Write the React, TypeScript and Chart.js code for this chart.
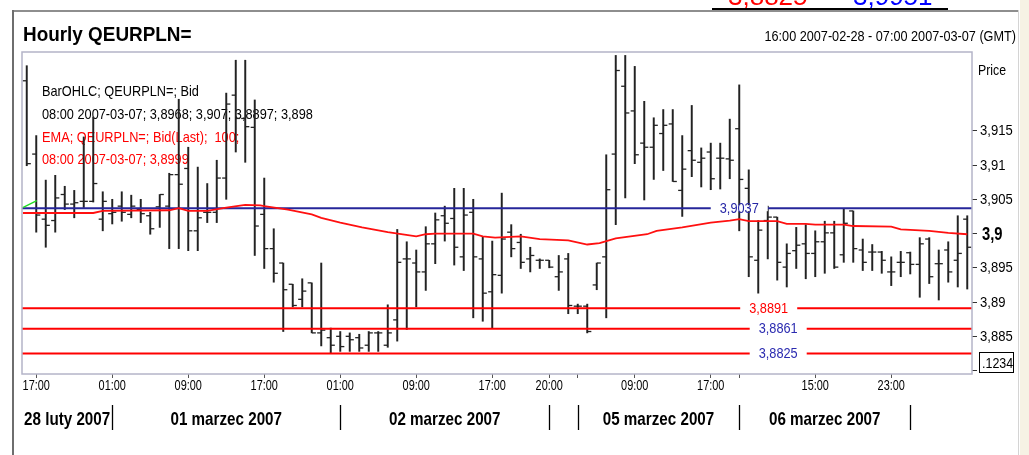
import React, { useEffect, useRef } from 'react';
import { Chart, registerables } from 'chart.js';

Chart.register(...registerables);

// ---------------- data ----------------
const barOpen = [
  3.9223, 3.9116, 3.9021, 3.9019, 3.9057, 3.9043, 3.9047, 3.9047, 3.9021, 3.9029,
  3.9040, 3.9028, 3.9035, 3.9026, 3.9039, 3.9040, 3.9086, 3.9095, 3.9004, 3.9031,
  3.9031, 3.9081, 3.9202, 3.9168, 3.9155, 3.9028, 3.8978, 3.8957, 3.8926, 3.8904,
  3.8928, 3.8855, 3.8848, 3.8850, 3.8850, 3.8848, 3.8837, 3.8855, 3.8837, 3.8874,
  3.8963, 3.8957, 3.8944, 3.8985, 3.9026, 3.9022, 3.8966, 3.9031, 3.8963, 3.8915,
  3.8939, 3.9002, 3.8987, 3.8963, 3.8961, 3.8961, 3.8937, 3.8963, 3.8894, 3.8894,
  3.8925, 3.8966, 3.9116, 3.9215, 3.9179, 3.9132, 3.9126, 3.9146, 3.9160, 3.9063,
  3.9121, 3.9104, 3.9119, 3.9110, 3.9109, 3.9153, 3.9066, 3.8961, 3.9019, 3.9024,
  3.8951, 3.8975, 3.8985, 3.8971, 3.8988, 3.9001, 3.8969, 3.9033, 3.8976, 3.8973,
  3.8973, 3.8944, 3.8958, 3.8972, 3.8955, 3.8992, 3.8956, 3.8976, 3.8961, 3.9021,
];
const barHigh = [
  3.9245, 3.9143, 3.9078, 3.9085, 3.9069, 3.9063, 3.9141, 3.9170, 3.9061, 3.9050,
  3.9061, 3.9056, 3.9050, 3.9031, 3.9057, 3.9088, 3.9196, 3.9126, 3.9097, 3.9073,
  3.9107, 3.9205, 3.9253, 3.9253, 3.9195, 3.9081, 3.9007, 3.8957, 3.8926, 3.8934,
  3.8928, 3.8957, 3.8862, 3.8857, 3.8855, 3.8853, 3.8857, 3.8857, 3.8896, 3.9006,
  3.8988, 3.8976, 3.9010, 3.9030, 3.9040, 3.9066, 3.9066, 3.9050, 3.8996, 3.8989,
  3.9059, 3.9013, 3.8999, 3.8980, 3.8963, 3.8961, 3.8968, 3.8971, 3.8897, 3.8897,
  3.8957, 3.9115, 3.9260, 3.9260, 3.9244, 3.9193, 3.9169, 3.9181, 3.9181, 3.9143,
  3.9187, 3.9125, 3.9132, 3.9132, 3.9167, 3.9217, 3.9093, 3.9019, 3.9040, 3.9024,
  3.8985, 3.9009, 3.9013, 3.9004, 3.9018, 3.9018, 3.9036, 3.9033, 3.8992, 3.8984,
  3.8974, 3.8966, 3.8974, 3.8973, 3.8994, 3.8994, 3.8976, 3.8988, 3.9026, 3.9026,
];
const barLow = [
  3.9099, 3.9002, 3.8980, 3.9002, 3.9035, 3.9023, 3.9038, 3.9046, 3.9004, 3.9014,
  3.9018, 3.9023, 3.9016, 3.8999, 3.9009, 3.8978, 3.8978, 3.8975, 3.8975, 3.9016,
  3.9016, 3.9050, 3.9119, 3.9104, 3.8968, 3.8949, 3.8929, 3.8857, 3.8893, 3.8893,
  3.8855, 3.8836, 3.8826, 3.8828, 3.8828, 3.8828, 3.8828, 3.8828, 3.8834, 3.8843,
  3.8860, 3.8893, 3.8917, 3.8956, 3.8989, 3.8954, 3.8946, 3.8877, 3.8872, 3.8862,
  3.8913, 3.8966, 3.8949, 3.8944, 3.8949, 3.8950, 3.8917, 3.8883, 3.8883, 3.8855,
  3.8918, 3.8877, 3.9013, 3.9052, 3.9102, 3.9049, 3.9079, 3.9092, 3.9076, 3.9025,
  3.9083, 3.9068, 3.9064, 3.9065, 3.9080, 3.9004, 3.8937, 3.8913, 3.8963, 3.8932,
  3.8922, 3.8949, 3.8934, 3.8937, 3.8942, 3.8949, 3.8958, 3.8958, 3.8946, 3.8946,
  3.8942, 3.8924, 3.8937, 3.8941, 3.8907, 3.8927, 3.8903, 3.8929, 3.8922, 3.8919,
];
const barClose = [
  3.9102, 3.9027, 3.9012, 3.9052, 3.9043, 3.9045, 3.9047, 3.9073, 3.9047, 3.9031,
  3.9031, 3.9040, 3.9029, 3.9007, 3.9057, 3.9086, 3.9072, 3.9004, 3.9023, 3.9031,
  3.9081, 3.9189, 3.9168, 3.9156, 3.9011, 3.8978, 3.8942, 3.8918, 3.8895, 3.8916,
  3.8855, 3.8859, 3.8837, 3.8835, 3.8845, 3.8833, 3.8855, 3.8855, 3.8855, 3.8958,
  3.8963, 3.8944, 3.8985, 3.9020, 3.9015, 3.8980, 3.9027, 3.8966, 3.8913, 3.8940,
  3.8992, 3.8978, 3.8958, 3.8968, 3.8961, 3.8951, 3.8944, 3.8895, 3.8894, 3.8857,
  3.8957, 3.9064, 3.9238, 3.9176, 3.9115, 3.9126, 3.9158, 3.9158, 3.9076, 3.9094,
  3.9107, 3.9110, 3.9080, 3.9110, 3.9107, 3.9079, 3.8966, 3.9005, 3.9024, 3.8958,
  3.8971, 3.8983, 3.8971, 3.8988, 3.9001, 3.8951, 3.9015, 3.8978, 3.8958, 3.8973,
  3.8961, 3.8944, 3.8958, 3.8955, 3.8985, 3.8937, 3.8956, 3.8944, 3.8971, 3.8980,
];

// EMA(100) read at bar positions
const emaIdx = [
  -0.4, 7, 8, 15, 16, 17, 19, 21, 23, 24.6, 25, 27.5, 30, 31, 33, 35.3, 38, 41, 42, 43,
  47, 48, 49.3, 52, 54, 57, 59, 60.3, 62, 65.3, 66.3, 69, 72, 74, 75, 76, 79, 80, 82,
  83, 86, 87, 91, 92, 95, 97, 99,
];
const emaVal = [
  3.9030, 3.9030, 3.9033, 3.9034, 3.9037, 3.9033, 3.9033, 3.9038, 3.9042, 3.9041,
  3.9040, 3.9035, 3.9028, 3.9023, 3.9016, 3.9009, 3.9002, 3.8996, 3.8999, 3.9000,
  3.9000, 3.8996, 3.8994, 3.8996, 3.8992, 3.8990, 3.8984, 3.8986, 3.8993, 3.8999,
  3.9004, 3.9009, 3.9016, 3.9019, 3.9021, 3.9018, 3.9018, 3.9014, 3.9014, 3.9013,
  3.9013, 3.9011, 3.9010, 3.9006, 3.9004, 3.9001, 3.8999,
];
const greenIdx = [-0.42, 1.05];
const greenVal = [3.9038, 3.9048];

const levelValues = [3.9037, 3.8891, 3.8861, 3.8825];

const yTickValues = [3.88, 3.885, 3.89, 3.895, 3.9, 3.905, 3.91, 3.915];
const xTickIdx = [1, 9, 17, 25, 33, 41, 49, 55, 58, 64, 72, 75, 83, 91];
const xTickLabels = ['17:00', '01:00', '09:00', '17:00', '01:00', '09:00', '17:00', '20:00', '', '09:00', '17:00', '', '15:00', '23:00'];
const daySepIdx = [9, 33, 55, 58, 75, 93];
const dayLabels = ['28 luty 2007', '01 marzec 2007', '02 marzec 2007', '', '05 marzec 2007', '06 marzec 2007', ''];

const legendLines = [
  'BarOHLC; QEURPLN=; Bid',
  '08:00 2007-03-07; 3,8968; 3,907; 3,8897; 3,898',
  'EMA; QEURPLN=; Bid(Last);  100;',
  '08:00 2007-03-07; 3,8999',
];
const titleText = 'Hourly QEURPLN=';
const rangeText = '16:00 2007-02-28 - 07:00 2007-03-07 (GMT)';
const topCutTexts = ['3,8825', '3,9951'];
const priceLabel = 'Price';
const boxLabel = '.1234';

// ---------------- styles ----------------
const W = 1029;
const H = 455;
const FAMILY = '"Liberation Sans", Arial, sans-serif';
const BAR_COLOR = '#222222';
const TICK_OFF = 0.23;
const levelStyles = [
  { line: '#26269a', text: '#2626a6', at: 75.0 },
  { line: '#ff0000', text: '#ff0000', at: 78.1 },
  { line: '#ff0000', text: '#2b2bb0', at: 79.1 },
  { line: '#ff0000', text: '#2b2bb0', at: 79.1 },
];

const fmt = (v: number, d: number) => {
  let s = v.toFixed(d);
  if (s.indexOf('.') >= 0) s = s.replace(/0+$/, '').replace(/\.$/, '');
  return s.replace('.', ',');
};

type TOpt = { size: number; bold?: boolean; sx?: number; align?: CanvasTextAlign; base?: CanvasTextBaseline; color?: string };
function drawText(ctx: CanvasRenderingContext2D, s: string, x: number, y: number, o: TOpt) {
  ctx.save();
  ctx.font = `${o.bold ? 'bold ' : ''}${o.size}px ${FAMILY}`;
  ctx.textAlign = o.align || 'left';
  ctx.textBaseline = o.base || 'alphabetic';
  ctx.fillStyle = o.color || '#000';
  ctx.translate(x, y);
  ctx.scale(o.sx ?? 0.82, 1);
  ctx.fillText(s, 0, 0);
  ctx.restore();
}
function textWidth(ctx: CanvasRenderingContext2D, s: string, o: TOpt) {
  ctx.save();
  ctx.font = `${o.bold ? 'bold ' : ''}${o.size}px ${FAMILY}`;
  const w = ctx.measureText(s).width * (o.sx ?? 0.82);
  ctx.restore();
  return w;
}

const lastIdx = barClose.length - 1;
const lastEma = emaVal[emaVal.length - 1];
const lastClose = barClose[lastIdx];
const markerX = lastIdx + 1.1;
const hiddenY = [yTickValues[0], Number(lastEma.toFixed(3))];

const customPlugin = {
  id: 'customDraw',
  beforeDraw(chart: any) {
    const ctx = chart.ctx as CanvasRenderingContext2D;
    ctx.save();
    ctx.fillStyle = '#ffffff';
    ctx.fillRect(0, 0, W, H);
    ctx.fillStyle = '#f6f2e4';
    ctx.fillRect(1020, 0, W - 1020, H);
    // outer frame
    ctx.fillStyle = '#8e8e8e';
    ctx.fillRect(12, 10, 1006, 2);
    ctx.fillStyle = '#6e6e6e';
    ctx.fillRect(12, 10, 2, H - 10);
    ctx.fillStyle = '#d4d4d4';
    ctx.fillRect(1018, 10, 1, H - 10);
    ctx.restore();
    // cut text at the very top
    drawText(ctx, topCutTexts[0], 728, 5, { size: 26, sx: 1, color: '#ff0000' });
    drawText(ctx, topCutTexts[1], 853, 5, { size: 26, sx: 1, color: '#0000ff' });
    ctx.save();
    ctx.fillStyle = '#000000';
    ctx.fillRect(712, 8, 236, 2);
    ctx.restore();
    // titles
    drawText(ctx, titleText, 23, 41, { size: 21, bold: true, sx: 0.9 });
    drawText(ctx, rangeText, 1016, 41, { size: 15, sx: 0.845, align: 'right' });
  },
  beforeDatasetsDraw(chart: any) {
    const ctx = chart.ctx as CanvasRenderingContext2D;
    const ys = [96, 118.5, 141.5, 164];
    legendLines.forEach((t, i) => {
      drawText(ctx, t, 42, ys[i], { size: 15, sx: 0.85, color: i < 2 ? '#000' : '#ff0000' });
    });
  },
  afterDatasetsDraw(chart: any) {
    const ctx = chart.ctx as CanvasRenderingContext2D;
    const xs = chart.scales.x;
    const ysc = chart.scales.y;
    const a = chart.chartArea;
    // level labels
    levelValues.forEach((v, i) => {
      const st = levelStyles[i];
      const txt = fmt(v, 4);
      const o: TOpt = { size: 15, sx: 0.85, align: 'center', base: 'middle', color: st.text };
      const cx = xs.getPixelForValue(st.at);
      const cy = ysc.getPixelForValue(v);
      const w = textWidth(ctx, txt, o) + 18;
      ctx.save();
      ctx.fillStyle = '#ffffff';
      ctx.fillRect(cx - w / 2, cy - 3, w, 6);
      ctx.restore();
      drawText(ctx, txt, cx, cy + 0.5, o);
    });
    // plot frame
    ctx.save();
    ctx.strokeStyle = '#b4b4c8';
    ctx.lineWidth = 1.5;
    ctx.strokeRect(a.left, a.top, a.right - a.left, a.bottom - a.top);
    ctx.restore();
  },
  afterDraw(chart: any) {
    const ctx = chart.ctx as CanvasRenderingContext2D;
    const xs = chart.scales.x;
    const ysc = chart.scales.y;
    const a = chart.chartArea;
    // x tick labels
    xTickIdx.forEach((v, i) => {
      const t = xTickLabels[i];
      if (!t) return;
      drawText(ctx, t, xs.getPixelForValue(v), 390, { size: 14, sx: 0.78, align: 'center' });
    });
    // y tick labels
    yTickValues.forEach((v) => {
      if (hiddenY.indexOf(v) >= 0) return;
      drawText(ctx, fmt(v, 3), 980, ysc.getPixelForValue(v) + 0.5, { size: 14.5, sx: 0.9, base: 'middle' });
    });
    // day separators + labels
    const bounds = [a.left, ...daySepIdx.map((d) => xs.getPixelForValue(d)), a.right];
    ctx.save();
    ctx.strokeStyle = '#000';
    ctx.lineWidth = 1.3;
    daySepIdx.forEach((d) => {
      const x = Math.round(xs.getPixelForValue(d)) + 0.5;
      ctx.beginPath();
      ctx.moveTo(x, 405);
      ctx.lineTo(x, 430);
      ctx.stroke();
    });
    ctx.restore();
    dayLabels.forEach((t, i) => {
      if (!t) return;
      const cx = (bounds[i] + bounds[i + 1]) / 2;
      drawText(ctx, t, cx, 424.5, { size: 19, bold: true, sx: 0.8, align: 'center' });
    });
    // right axis extras
    drawText(ctx, priceLabel, 978, 75, { size: 15, sx: 0.82 });
    drawText(ctx, fmt(lastEma, 3), 982, ysc.getPixelForValue(lastEma) + 1, { size: 18, bold: true, sx: 0.82, base: 'middle' });
    ctx.save();
    ctx.strokeStyle = '#000';
    ctx.lineWidth = 1;
    ctx.strokeRect(979.5, 352.5, 34, 20);
    ctx.restore();
    drawText(ctx, boxLabel, 982, 368, { size: 14.5, sx: 0.86 });
  },
};

export default function App() {
  const ref = useRef<HTMLCanvasElement>(null);
  useEffect(() => {
    if (!ref.current) return;
    const chart = new Chart(ref.current, {
      type: 'bar',
      data: {
        datasets: [
          {
            type: 'line',
            data: emaIdx.map((x, i) => ({ x, y: emaVal[i] })),
            borderColor: '#ff1010',
            borderWidth: 1.8,
            pointRadius: 0,
            order: 1,
          } as any,
          {
            type: 'line',
            data: greenIdx.map((x, i) => ({ x, y: greenVal[i] })),
            borderColor: '#22dd22',
            borderWidth: 1.4,
            pointRadius: 0,
            order: 1,
          } as any,
          ...levelValues.map((v, i) => ({
            type: 'line',
            data: [
              { x: -0.5, y: v },
              { x: lastIdx + 0.5, y: v },
            ],
            borderColor: levelStyles[i].line,
            borderWidth: 2,
            pointRadius: 0,
            order: 2,
          })) as any,
          {
            type: 'bar',
            data: barHigh.map((h, i) => ({ x: i, y: [barLow[i], h] })),
            backgroundColor: BAR_COLOR,
            borderWidth: 0,
            barThickness: 1.3,
            order: 5,
          } as any,
          {
            type: 'line',
            data: barOpen.map((o, i) => ({ x: i - TICK_OFF, y: o })),
            showLine: false,
            pointStyle: 'line',
            pointRadius: 1.9,
            pointBorderWidth: 1.3,
            borderColor: BAR_COLOR,
            pointBorderColor: BAR_COLOR,
            order: 4,
          } as any,
          {
            type: 'line',
            data: barClose.map((c, i) => ({ x: i + TICK_OFF, y: c })),
            showLine: false,
            pointStyle: 'line',
            pointRadius: 1.9,
            pointBorderWidth: 1.3,
            borderColor: BAR_COLOR,
            pointBorderColor: BAR_COLOR,
            order: 4,
          } as any,
          {
            type: 'line',
            data: [{ x: markerX, y: lastClose }],
            showLine: false,
            pointStyle: 'rectRot',
            pointRadius: 5.5,
            pointBackgroundColor: '#000',
            pointBorderColor: '#000',
            pointBorderWidth: 0,
            clip: false,
            order: 0,
          } as any,
          {
            type: 'line',
            data: [{ x: markerX, y: lastEma }],
            showLine: false,
            pointStyle: 'rectRot',
            pointRadius: 5.5,
            pointBackgroundColor: '#ff0000',
            pointBorderColor: '#ff0000',
            pointBorderWidth: 0,
            clip: false,
            order: 0,
          } as any,
        ],
      },
      options: {
        responsive: false,
        devicePixelRatio: 1,
        animation: false,
        events: [],
        layout: { padding: { left: 22, top: 52, right: 0, bottom: 0 } },
        plugins: { legend: { display: false }, tooltip: { enabled: false }, title: { display: false } },
        scales: {
          x: {
            type: 'linear',
            offset: false,
            min: -0.5,
            max: lastIdx + 0.5,
            afterFit: (s: any) => {
              s.height = H - 374;
            },
            afterBuildTicks: (s: any) => {
              s.ticks = xTickIdx.map((v) => ({ value: v }));
            },
            grid: { display: true, offset: false, drawOnChartArea: false, drawTicks: true, tickLength: 4, color: '#555', lineWidth: 1 },
            border: { display: false },
            ticks: { display: false, autoSkip: false, maxRotation: 0 },
          },
          y: {
            type: 'linear',
            position: 'right',
            min: 3.8795,
            max: 3.9265,
            afterFit: (s: any) => {
              s.width = W - 972;
            },
            afterBuildTicks: (s: any) => {
              s.ticks = yTickValues.map((v) => ({ value: v }));
            },
            grid: { display: true, drawOnChartArea: false, drawTicks: true, tickLength: 5, color: '#333', lineWidth: 1 },
            border: { display: false },
            ticks: { display: false },
          },
        },
      } as any,
      plugins: [customPlugin],
    });
    return () => chart.destroy();
  }, []);
  return (
    <div style={{ position: 'fixed', left: 0, top: 0, width: W, height: H, background: '#fff', overflow: 'hidden' }}>
      <canvas ref={ref} width={W} height={H} style={{ display: 'block', width: W, height: H }} />
    </div>
  );
}
